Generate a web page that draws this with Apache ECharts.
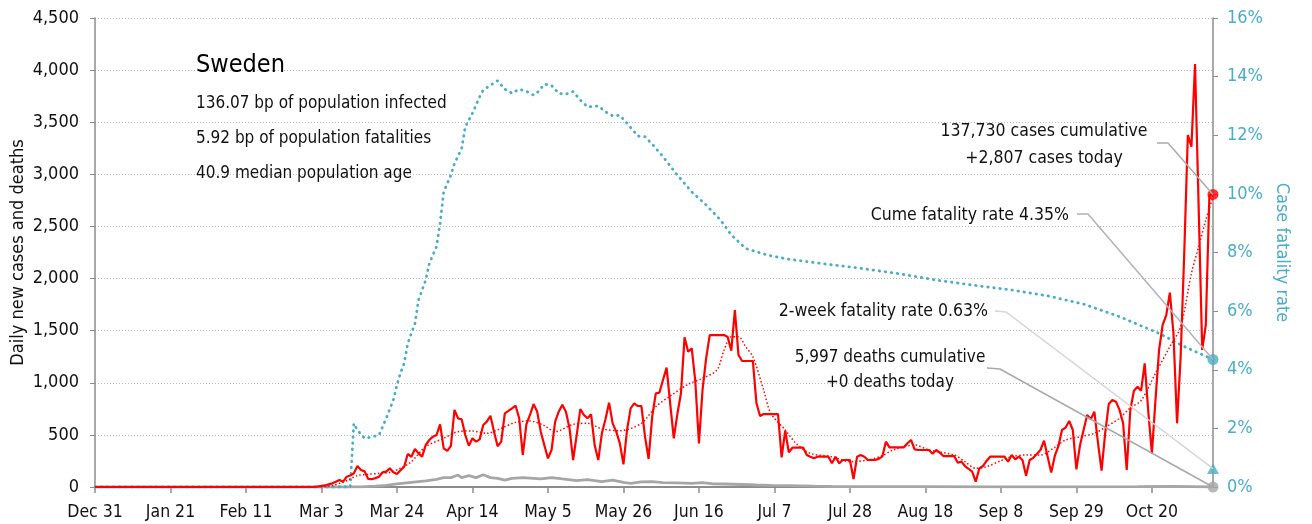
<!DOCTYPE html>
<html>
<head>
<meta charset="utf-8">
<script src="https://cdn.jsdelivr.net/npm/echarts/dist/echarts.min.js"></script>
<style>
  html, body { margin: 0; padding: 0; background: #fff; }
  #chart { width: 1312px; height: 524px; }
</style>
</head>
<body>
<div id="chart"></div>
<script>
// ---------------- DATA ----------------
const startDate = '2019-12-31';
const tickLabels = ['Dec 31','Jan 21','Feb 11','Mar 3','Mar 24','Apr 14','May 5','May 26','Jun 16','Jul 7','Jul 28','Aug 18','Sep 8','Sep 29','Oct 20'];
const tickEvery = 21;

// Daily new cases, one value per day from Dec 31 (index 0) to the last day (index 311)
const dailyCases = [
  0,0,0,0,0,0,0,0,0,0,
  0,0,0,0,0,0,0,0,0,0,
  0,0,0,0,0,0,0,0,0,0,
  0,0,0,0,0,0,0,0,0,0,
  0,0,0,0,0,0,0,0,0,0,
  0,0,0,0,0,0,0,0,0,0,
  0,0,5,10,15,25,35,50,67,50,
  99,110,131,201,163,150,77,75,85,99,
  141,147,179,141,125,160,195,317,290,365,
  323,291,403,451,483,499,601,371,346,395,
  739,659,650,499,396,467,435,457,595,627,
  684,531,390,435,707,730,755,780,659,307,
  600,691,796,723,531,400,275,355,627,723,
  790,723,563,259,500,748,691,659,697,400,
  259,515,650,809,611,531,419,218,547,755,
  803,777,777,483,269,675,899,905,1027,1145,
  803,467,700,900,1436,1298,1330,1010,419,931,
  1234,1458,1458,1458,1458,1458,1440,1308,1698,1266,
  1209,1209,1209,1209,803,681,700,700,700,700,
  700,285,540,333,377,377,377,377,307,290,
  275,291,291,291,291,227,291,227,259,259,
  259,77,291,307,290,259,259,259,270,291,
  435,381,381,381,381,381,420,451,361,355,
  355,355,355,320,355,330,297,297,297,297,
  233,243,201,175,147,51,179,201,250,291,
  291,291,291,291,243,307,265,291,259,108,
  259,280,317,355,445,291,138,300,393,547,
  570,633,547,170,400,547,691,650,723,425,
  157,515,796,835,819,740,611,163,739,924,
  962,924,1187,723,323,835,1315,1555,1650,1865,
  1474,611,1250,2242,3377,3265,4059,2700,1315,1555,
  2802,2807
];

// Moving average of cases, read at sampled days: [dayIndex, value]
const casesAvg = [
  [0,0],[62,0],[66,15],[70,60],[73,110],[76,122],[79,131],[82,140],[85,180],[88,243],
  [92,387],[97,467],[101,531],[105,537],[109,515],[113,563],[117,620],[121,633],[125,589],
  [128,531],[133,601],[137,611],[141,557],[146,540],[152,611],[156,771],[160,873],[165,985],
  [169,1043],[173,1122],[175,1315],[177,1442],[179,1442],[181,1346],[183,1250],[186,931],
  [188,707],[192,547],[195,419],[199,323],[205,291],[210,243],[215,259],[219,300],[222,355],
  [228,403],[232,355],[239,307],[242,243],[245,179],[248,195],[252,252],[255,291],[259,307],
  [263,307],[267,381],[270,451],[274,483],[278,515],[281,573],[285,660],[288,760],[291,830],
  [295,1091],[299,1346],[302,1538],[305,2050],[307,2306],[309,2562],[311,2786]
];

// Daily deaths, read at sampled days: [dayIndex, value]
const dailyDeaths = [
  [0,0],[70,0],[74,2],[78,8],[81,15],[84,29],[88,45],[92,58],[95,74],[97,90],[99,90],
  [101,115],[102,90],[104,109],[106,90],[108,118],[110,90],[112,83],[114,67],[116,83],
  [119,90],[121,85],[124,77],[127,90],[130,77],[134,61],[137,70],[141,51],[144,67],
  [147,45],[149,35],[152,50],[155,51],[158,42],[162,40],[166,35],[169,42],[172,30],
  [175,29],[180,24],[184,19],[188,16],[193,13],[200,8],[205,5],[215,4],[230,3],[250,2],
  [270,2],[290,3],[300,5],[305,4],[311,0]
];

// Case fatality rate (%), read at sampled days: [dayIndex, value]
const fatalityRate = [
  [0,0],[71,0],[72,2.17],[73,1.94],[75,1.66],[77,1.71],[79,1.77],[81,2.34],[83,2.97],
  [84,3.48],[85,3.9],[86,4.22],[87,4.9],[89,5.58],[90,6.38],[92,7.06],[93,7.63],[95,8.2],
  [96,9.0],[97,10.07],[99,10.64],[100,11.04],[102,11.55],[103,12.29],[105,12.75],[107,13.31],
  [108,13.54],[110,13.71],[112,13.86],[114,13.57],[116,13.43],[118,13.57],[120,13.5],
  [122,13.37],[123,13.45],[125,13.74],[127,13.7],[129,13.43],[131,13.4],[133,13.49],
  [135,13.2],[137,12.97],[140,13.0],[142,12.8],[144,12.66],[146,12.68],[148,12.41],
  [150,12.12],[151,11.97],[153,11.95],[155,11.7],[158,11.27],[162,10.64],[166,10.07],
  [170,9.62],[174,9.11],[177,8.6],[181,8.14],[187,7.91],[193,7.77],[203,7.61],[213,7.46],
  [224,7.27],[234,7.06],[244,6.89],[255,6.72],[265,6.52],[275,6.24],[285,5.81],[296,5.24],
  [303,4.79],[311,4.35]
];

const lastDay = 311;
const casesToday = 2807;
const cumeFatalityRate = 4.35;
const twoWeekFatalityRate = 0.63;
const deathsToday = 0;

const titleText = 'Sweden';
const infoLines = ['136.07 bp of population infected', '5.92 bp of population fatalities', '40.9 median population age'];
const casesNote = ['137,730 cases cumulative', '+2,807 cases today'];
const cumeNote = 'Cume fatality rate 4.35%';
const twoWeekNote = '2-week fatality rate 0.63%';
const deathsNote = ['5,997 deaths cumulative', '+0 deaths today'];

// ---------------- CHART ----------------
const FONT = "'DejaVu Sans Condensed', 'DejaVu Sans', sans-serif";
const TEAL = '#4bacc6';
const RED = '#ff0000';
const GRAY = '#a6a6a6';

const categories = [];
{
  const d0 = new Date(startDate + 'T00:00:00Z');
  for (let i = 0; i < dailyCases.length; i++) {
    const d = new Date(d0.getTime() + i * 86400000);
    categories.push(d.toISOString().slice(0, 10));
  }
}
const isTick = (idx) => idx % tickEvery === 0 && idx / tickEvery < tickLabels.length;

const chart = echarts.init(document.getElementById('chart'), null, { renderer: 'canvas' });

const option = {
  animation: false,
  backgroundColor: '#ffffff',
  textStyle: { fontFamily: FONT },
  grid: { left: 95, right: 99, top: 18, bottom: 37, containLabel: false, outerBoundsMode: 'none' },
  xAxis: {
    type: 'category',
    data: categories,
    boundaryGap: false,
    axisLine: { show: true, lineStyle: { color: '#8c8c8c', width: 2 } },
    axisTick: { show: true, interval: (i) => isTick(i), length: 6, lineStyle: { color: '#8c8c8c', width: 1.5 } },
    axisLabel: {
      interval: (i) => isTick(i),
      formatter: (v, i) => isTick(i) ? tickLabels[i / tickEvery] : '',
      color: '#111', fontSize: 17.5, fontFamily: FONT, margin: 16
    },
    splitLine: { show: false }
  },
  yAxis: [
    {
      type: 'value', min: 0, max: 4500, interval: 500,
      name: 'Daily new cases and deaths', nameLocation: 'middle', nameGap: 68, nameRotate: 90,
      nameMoveOverlap: false,
      nameTextStyle: { color: '#111', fontSize: 18, fontFamily: FONT },
      axisLine: { show: true, lineStyle: { color: '#8c8c8c', width: 1.5 } },
      axisTick: { show: true, length: 5, lineStyle: { color: '#8c8c8c' } },
      axisLabel: { color: '#111', fontSize: 18, fontFamily: FONT, margin: 16,
        formatter: (v) => v.toLocaleString('en-US') },
      splitLine: { show: true, lineStyle: { color: '#b8b8b8', width: 1, type: [1, 2] } }
    },
    {
      type: 'value', min: 0, max: 16, interval: 2, position: 'right',
      name: 'Case fatality rate', nameLocation: 'middle', nameGap: 60, nameRotate: -90,
      nameMoveOverlap: false,
      nameTextStyle: { color: TEAL, fontSize: 18, fontFamily: FONT },
      axisLine: { show: true, lineStyle: { color: '#8c8c8c', width: 1.5 } },
      axisTick: { show: true, length: 5, lineStyle: { color: '#8c8c8c' } },
      axisLabel: { color: TEAL, fontSize: 18, fontFamily: FONT, margin: 14, formatter: '{value}%' },
      splitLine: { show: false }
    }
  ],
  series: [
    {
      name: 'Deaths', type: 'line', data: dailyDeaths, yAxisIndex: 0,
      showSymbol: false, symbol: 'none',
      lineStyle: { color: GRAY, width: 2.8 }, z: 2
    },
    {
      name: 'Case fatality rate', type: 'line', data: fatalityRate, yAxisIndex: 1,
      showSymbol: false, symbol: 'none',
      lineStyle: { color: TEAL, width: 2.8, type: [0.5, 5.6], cap: 'round' }, z: 3
    },
    {
      name: 'Cases', type: 'line', data: dailyCases, yAxisIndex: 0,
      showSymbol: false, symbol: 'none',
      lineStyle: { color: RED, width: 2.2 }, z: 4
    },
    {
      name: 'Cases average', type: 'line', data: casesAvg, yAxisIndex: 0,
      showSymbol: false, symbol: 'none', smooth: 0.3,
      lineStyle: { color: RED, width: 1.5, type: [1.5, 2.2] }, z: 5
    },
    {
      type: 'scatter', yAxisIndex: 0, clip: false, z: 10,
      data: [[lastDay, casesToday]], symbol: 'circle', symbolSize: 11,
      itemStyle: { color: RED }
    },
    {
      type: 'scatter', yAxisIndex: 1, clip: false, z: 10,
      data: [[lastDay, cumeFatalityRate]], symbol: 'circle', symbolSize: 11,
      itemStyle: { color: TEAL }
    },
    {
      type: 'scatter', yAxisIndex: 1, clip: false, z: 10,
      data: [[lastDay, twoWeekFatalityRate]], symbol: 'triangle', symbolSize: [12, 11],
      itemStyle: { color: TEAL }
    },
    {
      type: 'scatter', yAxisIndex: 0, clip: false, z: 10,
      data: [[lastDay, deathsToday]], symbol: 'circle', symbolSize: 11,
      itemStyle: { color: GRAY }
    }
  ]
};

chart.setOption(option);

const p0 = (v) => chart.convertToPixel({ xAxisIndex: 0, yAxisIndex: 0 }, [lastDay, v]);
const p1 = (v) => chart.convertToPixel({ xAxisIndex: 0, yAxisIndex: 1 }, [lastDay, v]);
const redPt = p0(casesToday);
const cfrPt = p1(cumeFatalityRate);
const twPt = p1(twoWeekFatalityRate);
const dPt = p0(deathsToday);

function txt(text, x, y, size, align, color) {
  return { type: 'text', z: 50, style: { text: text, x: x, y: y, font: size + 'px ' + FONT,
    fill: color || '#111', textAlign: align || 'left', textVerticalAlign: 'middle' } };
}
function leader(pts, color) {
  return { type: 'polyline', z: 40, shape: { points: pts }, style: { stroke: color, lineWidth: 1.5, fill: null } };
}

const graphics = [
  txt(titleText, 196, 65, 25, 'left', '#000'),
  txt(infoLines[0], 196, 104, 17),
  txt(infoLines[1], 196, 139, 17),
  txt(infoLines[2], 196, 174, 17),
  txt(casesNote[0], 1044, 131, 17.5, 'center'),
  txt(casesNote[1], 1044, 158, 17.5, 'center'),
  txt(cumeNote, 1069, 215, 17.5, 'right'),
  txt(twoWeekNote, 988, 311, 17.5, 'right'),
  txt(deathsNote[0], 890, 358, 17, 'center'),
  txt(deathsNote[1], 890, 383, 17, 'center'),
  leader([[1157, 143], [1168, 143], redPt], '#ababab'),
  leader([[1077, 214], [1088, 214], cfrPt], '#b3b3b3'),
  leader([[995, 311], [1006, 312], twPt], '#d6d6d6'),
  leader([[987, 368], [1000, 369], dPt], '#a8a8a8')
];
chart.setOption({ graphic: graphics });
</script>
</body>
</html>
